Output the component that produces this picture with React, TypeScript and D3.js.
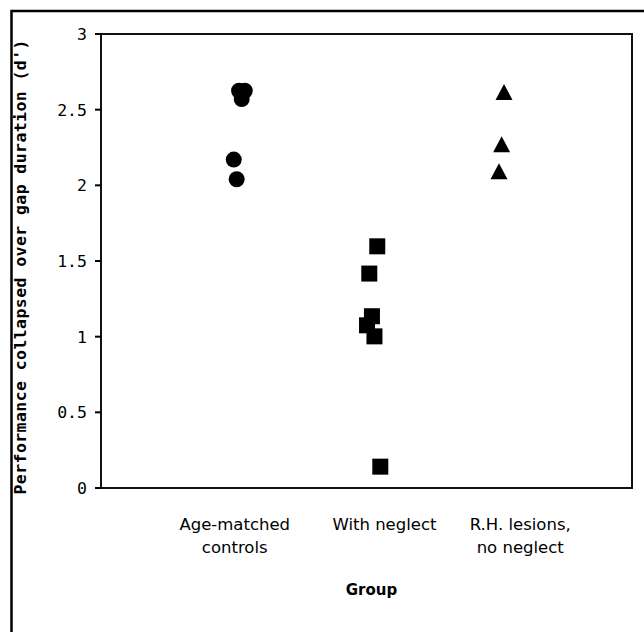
import React from "react";
import * as d3 from "d3";

// ---- data ----
const categories = ["Age-matched\ncontrols", "With neglect", "R.H. lesions,\nno neglect"];
const yTicks = [0, 0.5, 1, 1.5, 2, 2.5, 3];
// x in category units (1,2,3 with small jitter), y = d'
const controlsX = [1.04, 1.083, 1.06, 1.0, 1.022];
const controlsY = [2.625, 2.625, 2.57, 2.17, 2.04];
const neglectX = [2.081, 2.021, 2.041, 2.004, 2.06, 2.104];
const neglectY = [1.597, 1.417, 1.135, 1.075, 1.002, 0.141];
const lesionX = [3.036, 3.018, 2.998];
const lesionY = [2.617, 2.271, 2.093];

const W = 644;
const H = 632;
const plot = { left: 101, right: 632, top: 34, bottom: 488 };
const labelShift = [1, 18, 21];

export default function App() {
  const x = d3.scaleLinear().domain([0, 4]).range([plot.left, plot.right]);
  const y = d3.scaleLinear().domain([0, 3]).range([plot.bottom, plot.top]);
  const monoFont = "'DejaVu Sans Mono', monospace";
  const sansFont = "'DejaVu Sans', sans-serif";
  const r = 8;
  const sq = 16;
  const triW = 17;
  const triH = 16;

  return (
    <svg
      width={W}
      height={H}
      style={{ position: "absolute", left: 0, top: 0, background: "#fff" }}
    >
      <rect x={0} y={0} width={W} height={H} fill="#fff" />
      {/* outer frame */}
      <rect x={11.5} y={11} width={W + 20} height={H + 20} fill="none" stroke="#000" strokeWidth={2.5} />

      {/* plot frame */}
      <rect
        x={plot.left}
        y={plot.top}
        width={plot.right - plot.left}
        height={plot.bottom - plot.top}
        fill="none"
        stroke="#111"
        strokeWidth={2}
      />
      {yTicks.map((t) => (
        <g key={t}>
          <line x1={plot.left - 6} x2={plot.left} y1={y(t)} y2={y(t)} stroke="#000" strokeWidth={2} />
          <text
            x={plot.left - 14}
            y={y(t)}
            dy="0.36em"
            textAnchor="end"
            fontFamily={monoFont}
            fontSize={16.5}
            fill="#000"
          >
            {String(t)}
          </text>
        </g>
      ))}

      {/* y title */}
      <text
        transform={`translate(26,${(plot.top + plot.bottom) / 2 + 6}) rotate(-90)`}
        textAnchor="middle"
        fontFamily={monoFont}
        fontWeight="bold"
        fontSize={16.5}
        textLength={455}
        lengthAdjust="spacing"
        fill="#000"
      >
        Performance collapsed over gap duration (d')
      </text>

      {/* category labels */}
      {categories.map((c, i) => {
        const lines = c.split("\n");
        return (
          <text
            key={c}
            x={x(i + 1) + labelShift[i]}
            y={530}
            textAnchor="middle"
            fontFamily={sansFont}
            fontSize={16.5}
            fill="#000"
          >
            {lines.map((l, j) => (
              <tspan key={j} x={x(i + 1) + labelShift[i]} dy={j === 0 ? 0 : 23}>
                {l}
              </tspan>
            ))}
          </text>
        );
      })}
      <text
        x={(plot.left + plot.right) / 2 + 5}
        y={595}
        textAnchor="middle"
        fontFamily={sansFont}
        fontWeight="bold"
        fontSize={15}
        fill="#000"
      >
        Group
      </text>

      {/* points */}
      {controlsX.map((v, i) => (
        <circle key={"c" + i} cx={x(v)} cy={y(controlsY[i])} r={r} fill="#000" />
      ))}
      {neglectX.map((v, i) => (
        <rect
          key={"s" + i}
          x={x(v) - sq / 2}
          y={y(neglectY[i]) - sq / 2}
          width={sq}
          height={sq}
          fill="#000"
        />
      ))}
      {lesionX.map((v, i) => {
        const cx = x(v);
        const cy = y(lesionY[i]);
        const p = d3.path();
        p.moveTo(cx, cy - triH / 2);
        p.lineTo(cx + triW / 2, cy + triH / 2);
        p.lineTo(cx - triW / 2, cy + triH / 2);
        p.closePath();
        return <path key={"t" + i} d={p.toString()} fill="#000" />;
      })}
    </svg>
  );
}
